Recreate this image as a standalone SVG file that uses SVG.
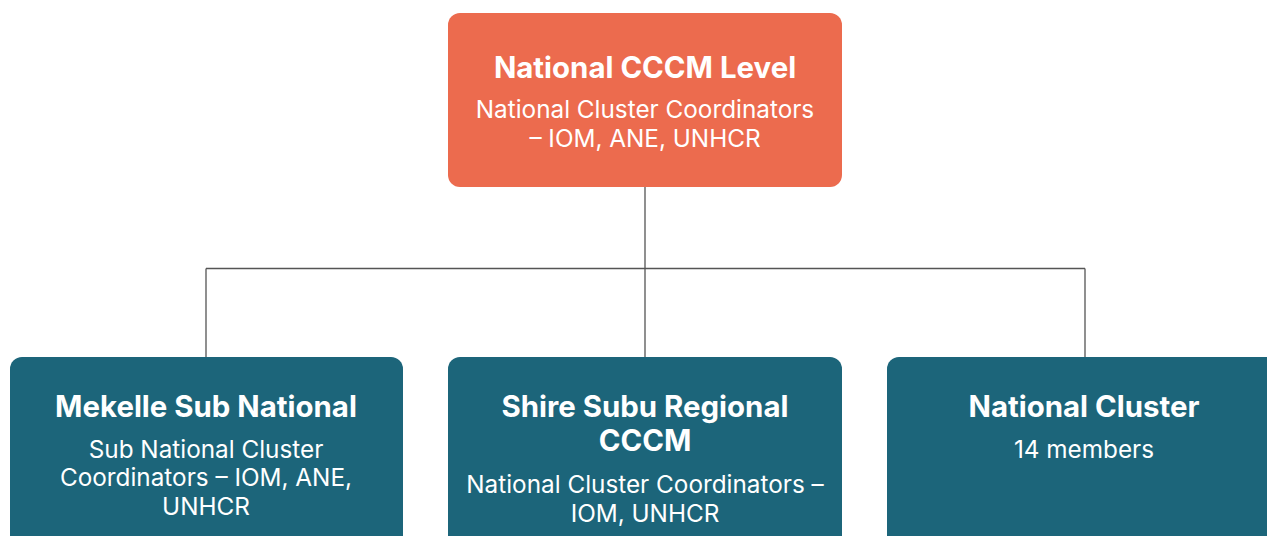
<svg xmlns="http://www.w3.org/2000/svg" width="1267" height="536" viewBox="0 0 1267 536">
<style>
.top{fill:#EC6B4E}
.sub{fill:#1C657A}
.t{font-family:Inter,"Noto Sans",sans-serif;font-weight:700;font-size:29.4px;fill:#fff;text-anchor:middle}
.s{font-family:Inter,"Noto Sans",sans-serif;font-weight:400;font-size:24.3px;fill:#fff;text-anchor:middle}
.c{stroke:#555;stroke-width:1.3;fill:none}
</style>
<rect width="1267" height="536" fill="#fff"/>
<g id="connectors">
<path class="c" d="M645 187V358M206 268.5H1085M206 268.5V358M1085 268.5V358"/>
</g>
<g id="national">
<rect class="top" x="448" y="13" width="394" height="174" rx="12"/>
<text class="t" x="645" y="78">National CCCM Level</text>
<text class="s" x="645" y="118">National Cluster Coordinators</text>
<text class="s" x="645" y="147">– IOM, ANE, UNHCR</text>
</g>
<g id="mekelle">
<rect class="sub" x="10" y="357" width="393" height="200" rx="12"/>
<text class="t" x="206" y="417">Mekelle Sub National</text>
<text class="s" x="206" y="458">Sub National Cluster</text>
<text class="s" x="206" y="486">Coordinators – IOM, ANE,</text>
<text class="s" x="206" y="515">UNHCR</text>
</g>
<g id="shire">
<rect class="sub" x="448" y="357" width="394" height="200" rx="12"/>
<text class="t" x="645" y="417">Shire Subu Regional</text>
<text class="t" x="645" y="451">CCCM</text>
<text class="s" x="645" y="493">National Cluster Coordinators –</text>
<text class="s" x="645" y="522">IOM, UNHCR</text>
</g>
<g id="cluster">
<rect class="sub" x="887" y="357" width="394" height="200" rx="12"/>
<text class="t" x="1084" y="417">National Cluster</text>
<text class="s" x="1084" y="458">14 members</text>
</g>
</svg>
